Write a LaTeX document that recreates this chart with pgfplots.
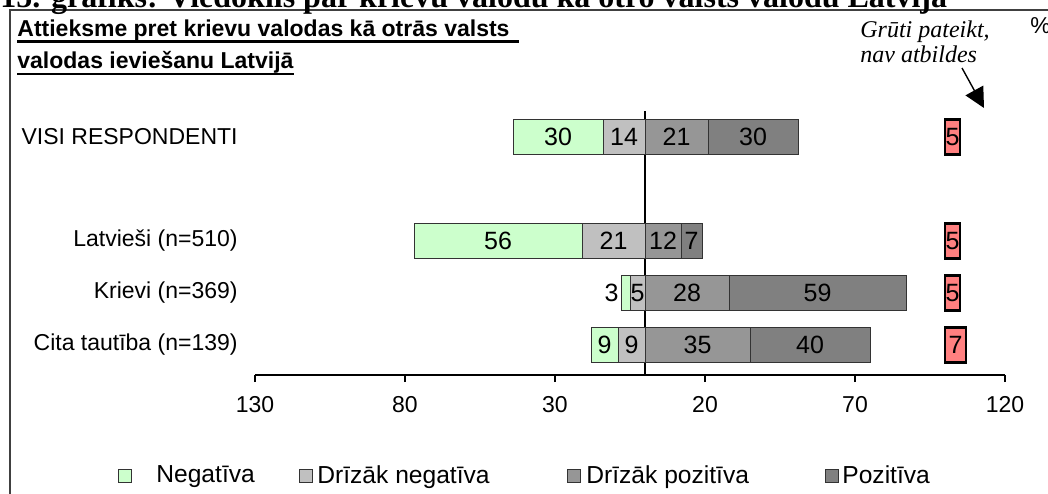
\documentclass[border=0pt]{standalone}
\usepackage{fontspec}
\setmainfont{Liberation Sans}
\newfontfamily\timesfont{Liberation Serif}
\usepackage{pgfplots}
\pgfplotsset{compat=1.18}
\usetikzlibrary{arrows.meta}

\definecolor{neg}{HTML}{CCFFCC}
\definecolor{dneg}{HTML}{C0C0C0}
\definecolor{dpoz}{HTML}{969696}
\definecolor{poz}{HTML}{808080}
\definecolor{nav}{HTML}{FF8080}

\newcommand{\fs}{\fontsize{11.5bp}{13.8bp}\selectfont}
\newcommand{\fb}{\fontsize{12.5bp}{14bp}\selectfont}
\newcommand{\fl}{\fontsize{12.3bp}{14bp}\selectfont}

\pgfplotsset{
  sqleg/.style={legend image code/.code={\draw[##1] (0bp,-3.25bp) rectangle (6.5bp,3.25bp);}},
}

\begin{document}
\begin{tikzpicture}
\useasboundingbox (0,0) rectangle (524bp,-247bp);
% frame
\draw[line width=0.8bp, black!75] (5bp,-260bp) -- (5bp,-5bp) -- (540bp,-5bp);
\node[anchor=base west, inner sep=0, font=\timesfont\bfseries\fontsize{16bp}{18bp}\selectfont] at (0bp,-3.5bp)
  {15. grafiks: Viedoklis par krievu valodu kā otro valsts valodu Latvijā};
% subtitle
\node[anchor=base west, inner sep=0, font=\fs\bfseries] (t1) at (8.5bp,-18bp)
  {Attieksme pret krievu valodas kā otrās valsts\hspace{0.4em}\null};
\draw[line width=1.2bp] ([yshift=-2.75bp]t1.base west) -- ([yshift=-2.75bp]t1.base east);
\node[anchor=base west, inner sep=0, font=\fs\bfseries] (t2) at (8.5bp,-34bp)
  {valodas ieviešanu Latvijā};
\draw[line width=1.2bp] ([yshift=-3bp]t2.base west) -- ([yshift=-3bp]t2.base east);
% note
\node[anchor=base west, inner sep=0, font=\timesfont\itshape\fontsize{12bp}{14bp}\selectfont] at (430bp,-18.5bp) {Grūti pateikt,};
\node[anchor=base west, inner sep=0, font=\timesfont\itshape\fontsize{12bp}{14bp}\selectfont] at (430bp,-31bp) {nav atbildes};
\node[anchor=base west, inner sep=0, font=\fs] at (515bp,-16.5bp) {\%};
\draw[line width=0.7bp, -{Triangle[length=10bp,width=10bp]}] (481bp,-34bp) -- (492bp,-54bp);

\begin{axis}[
  at={(127.5bp,-187.5bp)}, anchor=south west,
  scale only axis, width=375bp, height=132bp,
  xbar stacked, bar width=17.5bp,
  xmin=-130, xmax=120, ymin=-0.58, ymax=4.5,
  axis x line*=bottom, axis y line*=left,
  y axis line style={draw=none},
  x axis line style={line width=0.6bp},
  ytick={0,1,2,4},
  yticklabels={Cita tautība (n=139),Krievi (n=369),Latvieši (n=510),VISI RESPONDENTI},
  ytick style={draw=none},
  yticklabel style={font=\fs, inner sep=0pt, xshift=-5bp},
  xtick={-130,-80,-30,20,70,120},
  xticklabels={130,80,30,20,70,120},
  xticklabel style={font=\fs, inner sep=0pt, yshift=-7bp},
  tick align=outside, major tick length=3.5bp,
  xtick style={black, line width=0.6bp},
  extra x ticks={0}, extra x tick labels={},
  extra x tick style={grid=major, major grid style={black, line width=0.6bp}, major tick length=0pt},
  sqleg,
  legend style={draw=none, fill=none, at={(-0.1827,-0.3826)}, anchor=west,
    font=\fl, inner sep=0pt, nodes={inner sep=0pt},
    /tikz/every even column/.append style={column sep=0pt},
    /tikz/every odd column/.append style={column sep=0pt}},
  legend columns=4, legend cell align=left,
]
% negative side stacks to the left of zero
\addplot[fill=dneg, draw=black!80, line width=0.5bp, forget plot] coordinates {(-9,0) (-5,1) (-21,2) (-14,4)};
\addplot[fill=neg, draw=black!80, line width=0.5bp, forget plot] coordinates {(-9,0) (-3,1) (-56,2) (-30,4)};
% positive side
\addplot[fill=dpoz, draw=black!80, line width=0.5bp, forget plot] coordinates {(35,0) (28,1) (12,2) (21,4)};
\addplot[fill=poz, draw=black!80, line width=0.5bp, forget plot] coordinates {(40,0) (59,1) (7,2) (30,4)};
% spacer up to 100, then "hard to say"
\addplot[draw=none, fill=none, forget plot] coordinates {(25,0) (13,1) (81,2) (49,4)};
\addplot[fill=nav, draw=black, line width=1.2bp, forget plot] coordinates {(7,0) (5,1) (5,2) (5,4)};

\addlegendimage{fill=neg, draw=black!80, line width=0.5bp}
\addlegendentry{\makebox[83.5bp][l]{\hspace{12bp}Negatīva}}
\addlegendimage{fill=dneg, draw=black!80, line width=0.5bp}
\addlegendentry{\makebox[127bp][l]{\hspace{2bp}Drīzāk negatīva}}
\addlegendimage{fill=dpoz, draw=black!80, line width=0.5bp}
\addlegendentry{\makebox[122bp][l]{\hspace{2.5bp}Drīzāk pozitīva}}
\addlegendimage{fill=poz, draw=black!80, line width=0.5bp}
\addlegendentry{\hspace{1.5bp}Pozitīva}
\end{axis}

\begin{axis}[
  at={(127.5bp,-187.5bp)}, anchor=south west,
  scale only axis, width=375bp, height=132bp,
  xmin=-130, xmax=120, ymin=-0.58, ymax=4.5,
  hide axis,
  point meta=explicit symbolic,
  nodes near coords,
  every node near coord/.style={font=\fb, anchor=center, inner sep=0pt,
    opacity=1, text opacity=1, text=black},
]
\addplot[only marks, mark=*, mark size=0pt, mark options={draw opacity=0, fill opacity=0}] coordinates {
  (-29,4)[30] (-7,4)[14] (10.5,4)[21] (36,4)[30] (102.5,4)[5]
  (-49,2)[56] (-10.5,2)[21] (6,2)[12] (15.5,2)[7] (102.5,2)[5]
  (-2.5,1)[5] (14,1)[28] (57.5,1)[59] (102.5,1)[5]
  (-13.5,0)[9] (-4.5,0)[9] (17.5,0)[35] (55,0)[40] (103.5,0)[7]
};
\addplot[only marks, mark=*, mark size=0pt, mark options={draw opacity=0, fill opacity=0},
  every node near coord/.style={font=\fb, anchor=east, inner sep=0pt, xshift=-1bp,
    opacity=1, text opacity=1, text=black}]
  coordinates {(-8,1)[3]};
\end{axis}
\end{tikzpicture}
\end{document}
